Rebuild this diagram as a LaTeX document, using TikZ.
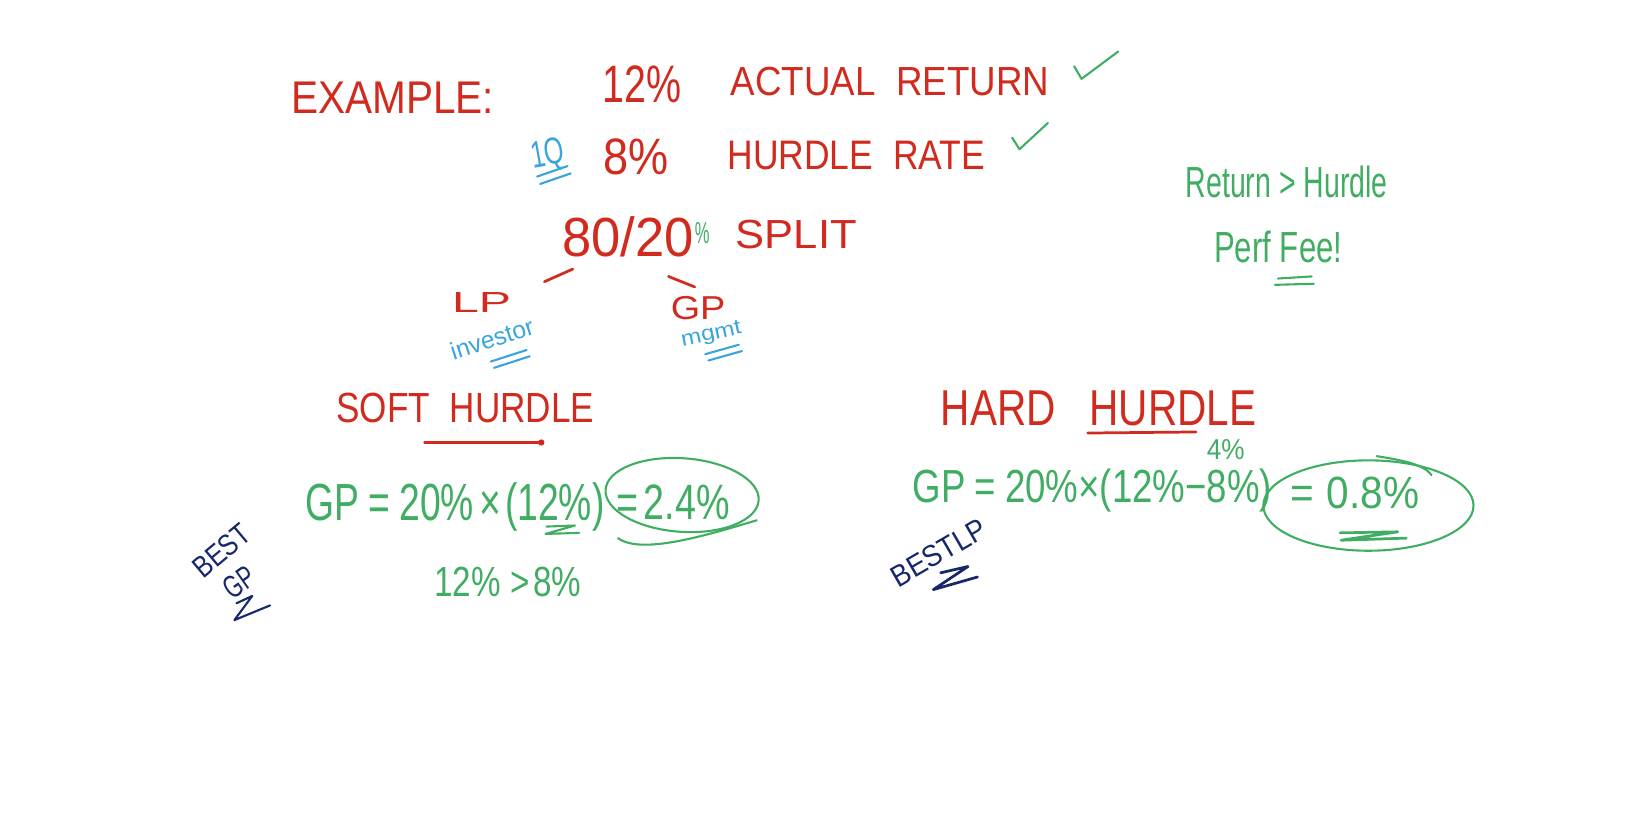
\documentclass[tikz,border=0pt]{standalone}
\usepackage{fontspec}
\usepackage{graphicx}
\usetikzlibrary{shapes.geometric}
\setmainfont{Liberation Sans}
\definecolor{mred}{HTML}{D12A1E}
\definecolor{mgreen}{HTML}{40AD63}
\definecolor{mblue}{HTML}{3AA5DD}
\definecolor{mnavy}{HTML}{16286B}
\newcommand{\hw}[3]{\resizebox{#1pt}{#2pt}{#3}}
\tikzset{
  txt/.style={inner sep=0pt, anchor=base west},
  ctxt/.style={inner sep=0pt, anchor=center},
  pen/.style={line width=2.6pt, line cap=round, line join=round},
  thinpen/.style={line width=2pt, line cap=round, line join=round}
}
\begin{document}
\begin{tikzpicture}[x=1pt,y=-1pt]
\useasboundingbox (0,0) rectangle (1568,778);
% --- top block ---
\node[txt, mred] (ex) at (277,108) {\hw{193}{30}{EXAMPLE:}};
\node[txt, mred] (p12) at (573,98) {\hw{75}{35}{12\%}};
\node[txt, mred] (ret) at (695,91) {\hw{303}{27}{ACTUAL~~RETURN}};
\coordinate (c1a) at (1022,63);
\coordinate (c1b) at (1029,75);
\coordinate (c1c) at (1064,49);
\draw[thinpen, mgreen] (c1a) -- (c1b) -- (c1c);
\node[txt, mblue, rotate=10] (q1) at (507,160) {\hw{32}{25}{1Q}};
\coordinate (q1a) at (511,168); \coordinate (q1b) at (540,158);
\coordinate (q1c) at (514,175); \coordinate (q1d) at (543,165);
\draw[thinpen, mblue] (q1a) -- (q1b) (q1c) -- (q1d);
\node[txt, mred] (p8) at (574,166) {\hw{62}{34}{8\%}};
\node[txt, mred] (hr) at (692,161) {\hw{245}{27}{HURDLE~~RATE}};
\coordinate (c2a) at (963,131);
\coordinate (c2b) at (970,142);
\coordinate (c2c) at (997,117);
\draw[thinpen, mgreen] (c2a) -- (c2b) -- (c2c);
% split
\node[txt, mred] (s80) at (535,244) {\hw{125}{38}{80/20}};
\node[txt, mgreen] (spct) at (661,232) {\hw{14}{20}{\%}};
\node[txt, mred] (split) at (700,236) {\hw{115}{27}{SPLIT}};
\coordinate (bl1) at (518,268); \coordinate (bl2) at (545,256);
\coordinate (br1) at (636,263); \coordinate (br2) at (661,273);
\draw[pen, mred] (bl1) -- (bl2) (br1) -- (br2);
\node[txt, mred] (lp) at (430,297) {\hw{56}{19}{LP}};
\node[txt, mred] (gp) at (638,304) {\hw{52}{22}{GP}};
\node[ctxt, mblue, rotate=18] (inv) at (468,322) {\hw{82}{17}{investor}};
\coordinate (iu1) at (467,344); \coordinate (iu2) at (501,333);
\coordinate (iu3) at (470,350); \coordinate (iu4) at (504,339);
\draw[thinpen, mblue] (iu1) -- (iu2) (iu3) -- (iu4);
\node[ctxt, mblue, rotate=12] (mg) at (677,319) {\hw{58}{13}{mgmt}};
\coordinate (mu1) at (671,337); \coordinate (mu2) at (703,328);
\coordinate (mu3) at (674,343); \coordinate (mu4) at (706,334);
\draw[thinpen, mblue] (mu1) -- (mu2) (mu3) -- (mu4);
% right note
\node[txt, mgreen] (rh) at (1128,188) {\hw{192}{30}{Return > Hurdle}};
\node[txt, mgreen] (pf) at (1155,250) {\hw{122}{30}{Perf Fee!}};
\coordinate (pu1) at (1216,265); \coordinate (pu2) at (1248,263);
\coordinate (pu3) at (1213,271); \coordinate (pu4) at (1250,270);
\draw[thinpen, mgreen] (pu1) -- (pu2) (pu3) -- (pu4);
% soft hurdle
\node[txt, mred] (soft) at (320,402) {\hw{245}{28}{SOFT~~HURDLE}};
\coordinate (su1) at (404,421); \coordinate (su2) at (515,421);
\draw[pen, mred] (su1) -- (su2);
\fill[mred] (su2) circle (3pt);
\node[txt, mgreen] (sf) at (290,495) {\hw{285}{36}{GP\hspace{0.25em}=\hspace{0.25em}20\%\hspace{0.15em}×\hspace{0.1em}(12\%)}};
\node[txt, mgreen] (sres) at (586,494) {\hw{108}{33}{=\hspace{0.15em}2.4\%}};
\node[draw=mgreen, thinpen, ellipse, minimum width=146pt, minimum height=70pt, rotate=-4, inner sep=0pt] (sell) at (649,471) {};
\coordinate (sw1) at (720,495); \coordinate (sw2) at (588,512);
\draw[thinpen, mgreen] (sw1) .. controls (670,510) and (610,528) .. (sw2);
\coordinate (sz1) at (520,501); \coordinate (sz2) at (547,500);
\coordinate (sz3) at (519,508); \coordinate (sz4) at (551,507);
\draw[thinpen, mgreen] (sz1) -- (sz2) -- (sz3) -- (sz4);
\node[txt, mgreen] (cmp) at (413,568) {\hw{140}{28}{12\%\hspace{0.3em}>\hspace{0.1em}8\%}};
\node[ctxt, mnavy, rotate=40] (best1) at (211,524) {\hw{62}{20}{BEST}};
\node[ctxt, mnavy, rotate=35] (gp1) at (228,554) {\hw{30}{21}{GP}};
\coordinate (bz1) at (225,574); \coordinate (bz2) at (240,567);
\coordinate (bz3) at (223,590); \coordinate (bz4) at (257,576);
\draw[thinpen, mnavy] (bz1) -- (bz2) -- (bz3) -- (bz4);
% hard hurdle
\node[txt, mred] (hard) at (895,405) {\hw{300}{33}{HARD~~~HURDLE}};
\coordinate (hu1) at (1035,412); \coordinate (hu2) at (1138,411);
\draw[pen, mred] (hu1) -- (hu2);
\node[txt, mgreen] (hf) at (868,478) {\hw{342}{32}{GP\hspace{0.25em}=\hspace{0.25em}20\%×(12\%−8\%)}};
\node[txt, mgreen] (h4) at (1148,437) {\hw{36}{19}{4\%}};
\node[txt, mgreen] (hres) at (1228,484) {\hw{122}{30}{=\hspace{0.3em}0.8\%}};
\node[draw=mgreen, thinpen, ellipse, minimum width=200pt, minimum height=86pt, inner sep=0pt] (hell) at (1302,481) {};
\coordinate (ht1) at (1310,434); \coordinate (ht2) at (1362,452);
\draw[thinpen, mgreen] (ht1) .. controls (1335,438) and (1355,442) .. (ht2);
\coordinate (hz1) at (1275,507); \coordinate (hz2) at (1330,506);
\coordinate (hz3) at (1276,514); \coordinate (hz4) at (1338,512);
\draw[pen, mgreen] (hz1) -- (hz2) -- (hz3) -- (hz4);
\node[ctxt, mnavy, rotate=30] (best2) at (893,526) {\hw{100}{20}{BESTLP}};
\coordinate (lz1) at (895,545); \coordinate (lz2) at (921,539);
\coordinate (lz3) at (888,561); \coordinate (lz4) at (930,549);
\draw[pen, mnavy] (lz1) -- (lz2) -- (lz3) -- (lz4);
\end{tikzpicture}
\end{document}
